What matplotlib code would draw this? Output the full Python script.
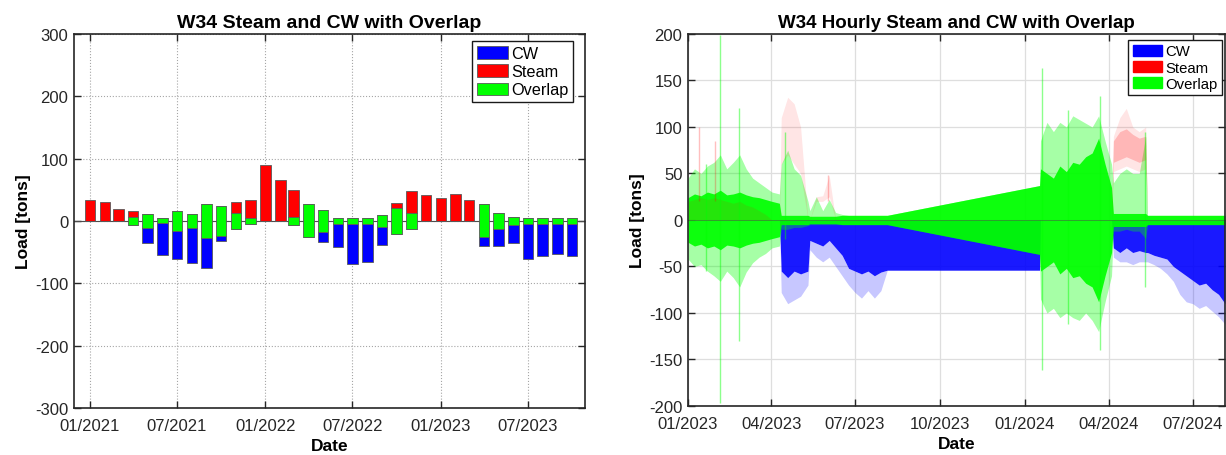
import numpy as np
import pandas as pd
import matplotlib
matplotlib.use('Agg')
import matplotlib.pyplot as plt
import matplotlib.dates as mdates
from matplotlib.patches import Patch

plt.rcParams['font.family'] = ['Liberation Sans', 'DejaVu Sans']
plt.rcParams['axes.unicode_minus'] = False

# ---- monthly W34 loads (tons) ----
months = pd.date_range('2021-01-01', '2023-10-01', freq='MS')
steam = [33, 30, 19, 10.6, 0, 0, 0, 0, 0, 0, 18, 29,
         90, 65, 42, 0.5, 0, 0, 0, 0, 0, 7.5, 35, 41,
         37, 44, 33, 0, 0, 0, 0, 0, 0, 0]
overlap = [0, 0, 0, 12, 24, 8, 33, 22, 56, 47, 25, 10,
           0, 0, 14, 53, 34, 10, 11, 11, 20, 43, 26, 0,
           0, 0, 0, 53, 27, 14, 11, 11, 11, 11]
cw = [0, 0, 0, 0, 23.4, 51, 44, 57, 48, 8, 0, 0,
      0, 0, 0, 0, 16.5, 36, 63, 61, 29, 0, 0, 0,
      0, 0, 0, 14, 26, 29, 56, 50, 48, 50.5]

# ---- hourly W34 loads: envelopes ----
h_dates = ['2023-01-01', '2023-01-08', '2023-01-15', '2023-01-22', '2023-01-29',
           '2023-02-05', '2023-02-12', '2023-02-19', '2023-02-26', '2023-03-05',
           '2023-03-12', '2023-03-19', '2023-03-26', '2023-04-02', '2023-04-10',
           '2023-04-12', '2023-04-19', '2023-04-26', '2023-05-03', '2023-05-11',
           '2023-05-13', '2023-05-20', '2023-05-27', '2023-06-03', '2023-06-10',
           '2023-06-17', '2023-06-24', '2023-07-01', '2023-07-08', '2023-07-15',
           '2023-07-22', '2023-07-29', '2023-08-05',
           '2024-01-17', '2024-01-18', '2024-01-25', '2024-02-01', '2024-02-08',
           '2024-02-15', '2024-02-22', '2024-02-29', '2024-03-07', '2024-03-14',
           '2024-03-21', '2024-03-28', '2024-04-04', '2024-04-06', '2024-04-13',
           '2024-04-20', '2024-04-27', '2024-05-04', '2024-05-11', '2024-05-13',
           '2024-05-20', '2024-05-27', '2024-06-03', '2024-06-10', '2024-06-17',
           '2024-06-24', '2024-07-01', '2024-07-08', '2024-07-15', '2024-07-22',
           '2024-07-29', '2024-08-05']
ov_half = [24, 28, 26, 30, 28, 32, 27, 28, 30, 27, 25, 24, 22, 20, 18,
           5, 5, 5, 5, 5, 4, 4, 4, 4, 4, 5, 5, 5, 5, 5, 5, 5, 5,
           37, 55, 50, 45, 58, 52, 62, 60, 68, 72, 88, 60, 35,
           7, 7, 7, 7, 7, 7, 5, 5, 5, 5, 5, 5, 5, 5, 5, 5, 5, 5, 5]
ov_top = [45, 55, 50, 58, 62, 70, 55, 62, 70, 55, 45, 40, 35, 30, 28,
          60, 75, 55, 48, 20, 10, 25, 10, 22, 8, 6, 5, 5, 5, 5, 5, 5, 5,
          37, 85, 105, 95, 105, 100, 112, 108, 104, 100, 112, 85, 60,
          40, 50, 55, 50, 50, 90, 5, 5, 5, 5, 5, 5, 5, 5, 5, 5, 5, 5, 5]
ov_bot = [-42, -50, -48, -55, -60, -66, -55, -62, -72, -56, -46, -40, -36, -30, -28,
          -10, -10, -8, -8, -6, -5, -5, -5, -5, -5, -5, -5, -5, -5, -5, -5, -5, -5,
          -37, -85, -100, -95, -105, -100, -105, -108, -100, -108, -120, -88, -60,
          -12, -12, -10, -12, -12, -20, -5, -5, -5, -5, -5, -5, -5, -5, -5, -5, -5, -5, -5]
cw_core = [0] * 15 + [-55, -62, -55, -58, -55, -22, -25, -28, -22, -30, -38, -52,
                      -55, -58, -55, -60, -56, -54,
                      -54] + [0] * 12 + [-30, -35, -30, -35, -33, -35, -35, -38, -40,
                                         -42, -50, -55, -60, -65, -70, -68, -75, -80, -90]
cw_min = [0] * 15 + [-78, -90, -86, -82, -70, -32, -40, -45, -40, -50, -60, -70,
                     -78, -84, -76, -84, -76, -54,
                     -54] + [0] * 12 + [-40, -45, -45, -48, -45, -45, -45, -48, -52,
                                        -58, -66, -80, -88, -90, -95, -92, -98, -104, -112]
st_bot = [0] * 15 + [60, 70, 60, 50, 0, 0, 20, 20, 25] + [0] * 22 + \
         [52, 55, 58, 55, 52, 55] + [0] * 13
st_top = [20, 22, 24, 22, 24, 22, 20, 18, 20, 16, 14, 10, 6, 0, 0,
          110, 132, 125, 100, 0, 0, 25, 26, 48] + [0] * 22 + \
         [90, 110, 120, 100, 95, 100] + [0] * 13
# denser steam hours, Apr-May 2024
st_dense_bot = [0] * 46 + [62, 65, 68, 65, 62, 65] + [0] * 13
st_dense_top = [0] * 46 + [85, 95, 98, 92, 88, 90] + [0] * 13

# single-hour spikes standing out of the envelopes
spike_dates = ['2023-01-20', '2023-02-05', '2023-02-25', '2023-04-16',
               '2024-01-20', '2024-02-17', '2024-03-23', '2024-05-10']
spike_top = [60, 199, 120, 95, 163, 118, 133, 95]
spike_bot = [-55, -197, -130, -20, -161, -112, -140, -72]
red_spike_dates = ['2023-01-13', '2023-01-30', '2023-06-02']
red_spike_top = [100, 85, 48]

BLUE, RED, GREEN = (0, 0, 1), (1, 0, 0), (0, 1, 0)

fig = plt.figure(figsize=(12.26, 4.56), dpi=100)
ax1 = fig.add_axes([0.0604, 0.1031, 0.4168, 0.8202])
ax2 = fig.add_axes([0.5612, 0.1075, 0.4380, 0.8158])

# ---------- left: monthly stacked bars ----------
x = mdates.date2num(months)
ov = np.array(overlap)
st = np.array(steam)
c = np.array(cw)
edge = dict(edgecolor='0.35', linewidth=0.6, width=22, zorder=3)
b_cw = ax1.bar(x, -c, bottom=-ov / 2, color=BLUE, label='CW', **edge)
b_st = ax1.bar(x, st, bottom=ov / 2, color=RED, label='Steam', **edge)
b_ov = ax1.bar(x, ov, bottom=-ov / 2, color=GREEN, label='Overlap', **edge)
ax1.axhline(0, color='0.3', lw=0.8, zorder=2)

ax1.set_xlim(mdates.date2num(pd.Timestamp('2020-11-29')),
             mdates.date2num(pd.Timestamp('2023-10-28')))
ax1.set_ylim(-300, 300)
ax1.set_yticks(range(-300, 301, 100))
ax1.set_xticks(mdates.date2num(pd.to_datetime(
    ['2021-01-01', '2021-07-01', '2022-01-01', '2022-07-01', '2023-01-01', '2023-07-01'])))
ax1.xaxis.set_major_formatter(mdates.DateFormatter('%m/%Y'))
ax1.grid(True, linestyle=':', color='0.65', linewidth=0.8, zorder=0)
ax1.set_axisbelow(True)
ax1.set_title('W34 Steam and CW with Overlap', fontsize=14, fontweight='bold', pad=5)
ax1.set_ylabel('Load [tons]', fontsize=12.5, fontweight='bold', labelpad=3)
ax1.legend(handles=[b_cw, b_st, b_ov], loc='upper right', bbox_to_anchor=(0.9765, 0.981),
           fontsize=11.7, fancybox=False, edgecolor='0.1', framealpha=1,
           handlelength=1.9, handleheight=0.8, handletextpad=0.2, labelspacing=0.2,
           borderpad=0.3, borderaxespad=0)

# ---------- right: hourly envelopes ----------
hx = mdates.date2num(pd.to_datetime(h_dates))
ovh = np.array(ov_half)
ax2.fill_between(hx, cw_min, cw_core, color=BLUE, alpha=0.22, lw=0, zorder=2)
ax2.fill_between(hx, cw_core, 0, color=BLUE, alpha=0.9, lw=0, zorder=2)
ax2.fill_between(hx, ov_bot, ov_top, color=GREEN, alpha=0.35, lw=0, zorder=3)
ax2.fill_between(hx, -ovh, ovh, color=GREEN, alpha=0.92, lw=0, zorder=3)
ax2.fill_between(hx, st_bot, st_top, color=RED, alpha=0.1, lw=0, zorder=4)
ax2.fill_between(hx, st_dense_bot, st_dense_top, color=RED, alpha=0.2, lw=0, zorder=4)
sx = mdates.date2num(pd.to_datetime(spike_dates))
ax2.vlines(sx, spike_bot, spike_top, color=GREEN, alpha=0.45, lw=1.0, zorder=4)
rx = mdates.date2num(pd.to_datetime(red_spike_dates))
ax2.vlines(rx, 20, red_spike_top, color=RED, alpha=0.25, lw=1.0, zorder=4)
ax2.axhline(0, color='0.3', lw=0.6, alpha=0.6, zorder=5)

ax2.set_xlim(mdates.date2num(pd.Timestamp('2023-01-01')),
             mdates.date2num(pd.Timestamp('2024-08-05')))
ax2.set_ylim(-200, 200)
ax2.set_yticks(range(-200, 201, 50))
ax2.set_xticks(mdates.date2num(pd.to_datetime(
    ['2023-01-01', '2023-04-01', '2023-07-01', '2023-10-01',
     '2024-01-01', '2024-04-01', '2024-07-01'])))
ax2.xaxis.set_major_formatter(mdates.DateFormatter('%m/%Y'))
ax2.grid(True, color='0.87', linewidth=0.9, zorder=0)
ax2.set_axisbelow(True)
ax2.set_title('W34 Hourly Steam and CW with Overlap', fontsize=13.5, fontweight='bold', pad=5)
ax2.set_ylabel('Load [tons]', fontsize=12.5, fontweight='bold', labelpad=3)
ax2.legend(handles=[Patch(color=BLUE, label='CW'), Patch(color=RED, label='Steam'),
                    Patch(color=GREEN, label='Overlap')],
           loc='upper right', bbox_to_anchor=(0.9944, 0.984),
           fontsize=10.7, fancybox=False, edgecolor='0.1', framealpha=1,
           handlelength=2.0, handleheight=0.8, handletextpad=0.2, labelspacing=0.15,
           borderpad=0.3, borderaxespad=0)

for ax in (ax1, ax2):
    ax.tick_params(direction='in', top=True, right=True, length=5, width=1,
                   labelsize=12, colors='0.15')
    ax.tick_params(axis='x', pad=7)
    ax.tick_params(axis='y', pad=4)
    ax.set_xlabel('Date', fontsize=12.5, fontweight='bold', labelpad=4)
    for s in ax.spines.values():
        s.set_linewidth(1.2)
        s.set_color('0.15')
        s.set_zorder(6)

fig.savefig('out.png', dpi=100)
